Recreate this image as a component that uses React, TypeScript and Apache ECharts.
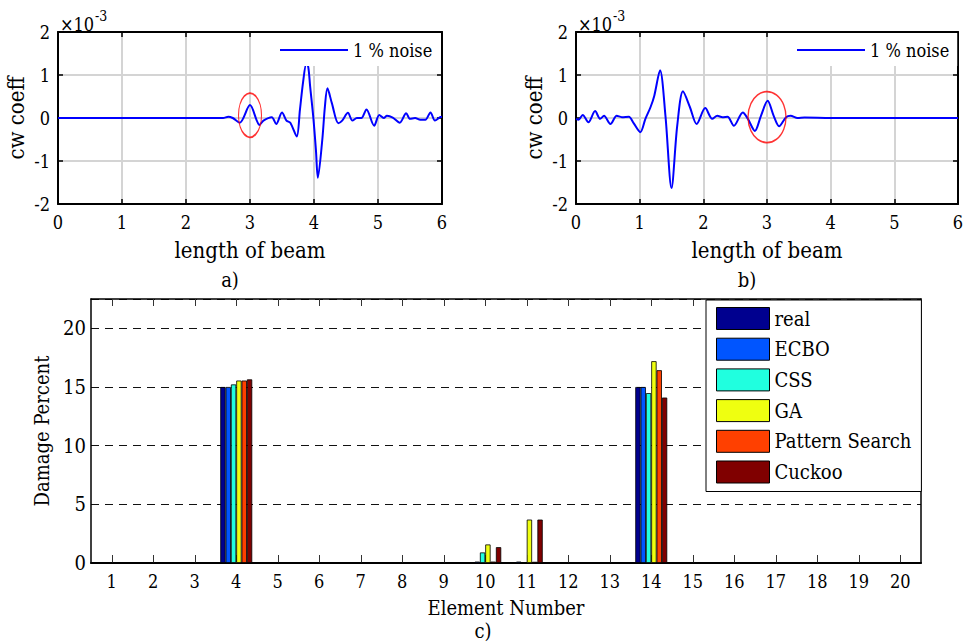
import React, { useEffect, useRef } from "react";
import * as echarts from "echarts";

const SERIF = "DejaVu Serif Condensed";

// ---- data: panels a) and b) (cw coefficient, x 1e-3) ----
const noiseName = "1 % noise";
const curveA: [number, number][] = [
  [0, 0], [0.5, 0], [1, 0], [1.5, 0], [2, 0], [2.5, 0], [2.58, 0.0], [2.66, 0.03], [2.73, 0.0],
  [2.84, -0.11], [3.0, 0.3], [3.15, -0.16], [3.21, -0.06], [3.34, 0.02], [3.41, -0.14], [3.5, 0.13],
  [3.57, -0.06], [3.63, -0.11], [3.73, -0.43], [3.78, 0.19], [3.83, 0.84], [3.88, 1.26], [3.91, 1.19],
  [3.94, 0.73], [3.99, 0.0], [4.03, -0.74], [4.06, -1.39], [4.13, -0.5], [4.17, 0.26], [4.21, 0.69],
  [4.28, 0.34], [4.38, -0.12], [4.44, -0.06], [4.53, 0.12], [4.6, -0.06], [4.67, 0], [4.74, 0],
  [4.82, 0.2], [4.94, -0.18], [5.02, 0.07], [5.09, 0], [5.14, 0.05], [5.23, 0.01], [5.34, -0.11],
  [5.44, 0.11], [5.5, -0.02], [5.58, 0], [5.66, -0.04], [5.74, -0.04], [5.82, 0.13], [5.89, -0.06],
  [5.97, 0.02], [6.0, 0.03],
];
const curveB: [number, number][] = [
  [0, -0.02], [0.04, -0.04], [0.105, 0.07], [0.195, -0.1], [0.3, 0.16], [0.38, -0.02], [0.44, 0.05],
  [0.54, -0.14], [0.64, 0.05], [0.72, 0.02], [0.83, 0.03], [0.905, -0.12], [1.01, -0.33], [1.09, -0.02],
  [1.17, 0.25], [1.23, 0.52], [1.32, 1.11], [1.405, 0.05], [1.5, -1.63], [1.59, -0.18], [1.68, 0.62],
  [1.79, 0.25], [1.895, -0.14], [2.03, 0.23], [2.14, -0.02], [2.22, 0.05], [2.3, 0.02], [2.38, 0.03],
  [2.48, -0.18], [2.62, 0.13], [2.7, -0.02], [2.81, -0.3], [2.905, 0.05], [3.01, 0.4], [3.105, 0.05],
  [3.19, -0.19], [3.3, 0.02], [3.37, 0.05], [3.48, 0], [3.59, 0.01], [4, 0], [5, 0], [6, 0],
];
const markA: [number, number][] = [[3.0, 0.065]];
const markB: [number, number][] = [[3.0, 0.02]];

// ---- data: panel c) damage percent ----
const elements = ["1", "2", "3", "4", "5", "6", "7", "8", "9", "10", "11", "12", "13", "14", "15", "16", "17", "18", "19", "20"];
const methods = ["real", "ECBO", "CSS", "GA", "Pattern Search", "Cuckoo"];
const real = [0, 0, 0, 15, 0, 0, 0, 0, 0, 0, 0, 0, 0, 15, 0, 0, 0, 0, 0, 0];
const ecbo = [0, 0, 0, 15, 0, 0, 0, 0, 0, 0.12, 0.12, 0, 0, 15, 0, 0, 0, 0, 0, 0];
const css = [0, 0, 0, 15.22, 0, 0, 0, 0, 0, 0.9, 0, 0, 0, 14.48, 0, 0, 0, 0, 0, 0];
const ga = [0, 0, 0, 15.55, 0, 0, 0, 0, 0, 1.58, 3.7, 0, 0, 17.2, 0, 0, 0, 0, 0, 0];
const patternSearch = [0, 0, 0, 15.55, 0, 0, 0, 0, 0, 0.12, 0.1, 0, 0, 16.43, 0, 0, 0, 0, 0, 0];
const cuckoo = [0, 0, 0, 15.65, 0, 0, 0, 0, 0, 1.35, 3.7, 0, 0, 14.1, 0, 0, 0, 0, 0, 0];
const methodValues = [real, ecbo, css, ga, patternSearch, cuckoo];
const methodColors = ["#00008F", "#0055FF", "#20FFDF", "#EFFF10", "#FF4000", "#800000"];

export default function App() {
  const ref = useRef<HTMLDivElement>(null);
  useEffect(() => {
    if (!ref.current) return;
    const chart = echarts.init(ref.current, undefined, { renderer: "svg" });
    const black = "#000";
    const txt = (size: number) => ({ fontFamily: SERIF, fontSize: size, color: black });

    const beamX = (grid: number, top: boolean) => ({
      gridIndex: grid,
      type: "value",
      min: 0,
      max: 6,
      interval: 1,
      position: top ? "top" : "bottom",
      axisLine: { show: true, onZero: false, lineStyle: { color: black, width: 2 } },
      axisTick: { show: true, inside: true, length: 5, lineStyle: { color: black, width: 1.5 } },
      axisLabel: top ? { show: false } : { ...txt(18), margin: 9 },
      splitLine: top ? { show: false } : { show: true, lineStyle: { color: "#d4d4d4", width: 2 } },
      name: top ? "" : "length of beam",
      nameLocation: "middle",
      nameGap: 35,
      nameTextStyle: txt(22),
    });
    const beamY = (grid: number, right: boolean) => ({
      gridIndex: grid,
      type: "value",
      min: -2,
      max: 2,
      interval: 1,
      position: right ? "right" : "left",
      axisLine: { show: true, onZero: false, lineStyle: { color: black, width: 2 } },
      axisTick: { show: true, inside: true, length: 5, lineStyle: { color: black, width: 1.5 } },
      axisLabel: right ? { show: false } : { ...txt(18), margin: 8 },
      splitLine: right ? { show: false } : { show: true, lineStyle: { color: "#d4d4d4", width: 2 } },
      name: right ? "" : "cw coeff",
      nameLocation: "middle",
      nameGap: 31,
      nameTextStyle: txt(22),
    });

    const lineSeries = (data: [number, number][], idx: number) => ({
      name: noiseName,
      type: "line",
      xAxisIndex: idx,
      yAxisIndex: idx,
      data,
      symbol: "none",
      smooth: 0.3,
      lineStyle: { color: "#0000FF", width: 2 },
      itemStyle: { color: "#0000FF" },
      z: 3,
    });
    const markSeries = (data: [number, number][], idx: number, size: number[]) => ({
      name: "mark" + idx,
      type: "scatter",
      xAxisIndex: idx,
      yAxisIndex: idx,
      data,
      symbol: "circle",
      symbolSize: size,
      itemStyle: { color: "rgba(0,0,0,0)", borderColor: "#FF0000", borderWidth: 1.5 },
      z: 4,
    });

    const barSeries = methods.map((m, i) => ({
      name: m,
      type: "bar",
      xAxisIndex: 4,
      yAxisIndex: 4,
      data: methodValues[i],
      barGap: "0%",
      barCategoryGap: "23%",
      itemStyle: { color: methodColors[i], borderColor: "#000", borderWidth: 0.8 },
    }));

    const lineLegend = (left: number) => ({
      data: [noiseName],
      left,
      top: 33,
      itemWidth: 68,
      itemHeight: 14,
      padding: [7, 8, 6, 11],
      backgroundColor: "#fff",
      itemStyle: { opacity: 0 },
      lineStyle: { color: "#0000FF", width: 2 },
      textStyle: { ...txt(18), lineHeight: 20 },
      selectedMode: false,
    });

    const option: any = {
      animation: false,
      backgroundColor: "#fff",
      grid: [
        { left: 58, right: 525, top: 32, bottom: 438 },
        { left: 576, right: 9, top: 32, bottom: 438 },
        { left: 91, right: 46, top: 299, bottom: 79 },
      ],
      xAxis: [
        beamX(0, false),
        beamX(0, true),
        beamX(1, false),
        beamX(1, true),
        {
          gridIndex: 2,
          type: "category",
          data: elements,
          boundaryGap: true,
          position: "bottom",
          axisLine: { show: true, onZero: false, lineStyle: { color: black, width: 2 } },
          axisTick: { show: true, alignWithLabel: true, inside: true, length: 8, lineStyle: { color: "#333" } },
          axisLabel: { ...txt(18), margin: 9 },
          splitLine: { show: false },
          name: "Element Number",
          nameLocation: "middle",
          nameGap: 35,
          nameTextStyle: { ...txt(20), lineHeight: 20 },
        },
        {
          gridIndex: 2,
          type: "category",
          data: elements,
          boundaryGap: true,
          position: "top",
          axisLine: { show: true, onZero: false, lineStyle: { color: black, width: 1.5 } },
          axisTick: { show: true, alignWithLabel: true, inside: true, length: 7, lineStyle: { color: "#333" } },
          axisLabel: { show: false },
          splitLine: { show: false },
        },
      ],
      yAxis: [
        beamY(0, false),
        beamY(0, true),
        beamY(1, false),
        beamY(1, true),
        {
          gridIndex: 2,
          type: "value",
          min: 0,
          max: 22.5,
          interval: 5,
          position: "left",
          axisLine: { show: true, onZero: false, lineStyle: { color: black, width: 1.5 } },
          axisTick: { show: false },
          axisLabel: {
            ...txt(20),
            margin: 5,
            showMaxLabel: false,
            formatter: (v: number) => (v % 5 === 0 ? String(v) : ""),
          },
          splitLine: { show: true, lineStyle: { color: "#111", width: 1, type: [8, 6] } },
          name: "Damage Percent",
          nameLocation: "middle",
          nameGap: 39,
          nameTextStyle: txt(20),
        },
        {
          gridIndex: 2,
          type: "value",
          min: 0,
          max: 22.5,
          position: "right",
          axisLine: { show: true, onZero: false, lineStyle: { color: black, width: 1.5 } },
          axisTick: { show: false },
          axisLabel: { show: false },
          splitLine: { show: false },
        },
      ],
      legend: [
        lineLegend(268),
        lineLegend(785),
        {
          data: methods,
          orient: "vertical",
          left: 706,
          top: 300,
          itemWidth: 53,
          itemHeight: 22,
          itemGap: 7.7,
          padding: [7, 10, 8, 10],
          backgroundColor: "#fff",
          borderColor: "#000",
          borderWidth: 1,
          icon: "rect",
          selectedMode: false,
          textStyle: { ...txt(20), lineHeight: 22 },
          itemStyle: { borderColor: "#000", borderWidth: 1 },
        },
      ],
      series: [
        lineSeries(curveA, 0),
        markSeries(markA, 0, [23, 44]),
        lineSeries(curveB, 2),
        markSeries(markB, 2, [38, 51]),
        ...barSeries,
      ],
      graphic: [
        { type: "text", x: 60, y: 24, style: { text: "×10", font: `18px "${SERIF}"`, fill: black, verticalAlign: "middle" } },
        { type: "text", x: 95, y: 16, style: { text: "-3", font: `14px "${SERIF}"`, fill: black, verticalAlign: "middle" } },
        { type: "text", x: 578, y: 24, style: { text: "×10", font: `18px "${SERIF}"`, fill: black, verticalAlign: "middle" } },
        { type: "text", x: 613, y: 16, style: { text: "-3", font: `14px "${SERIF}"`, fill: black, verticalAlign: "middle" } },
        { type: "text", x: 230, y: 280, style: { text: "a)", font: `20px "${SERIF}"`, fill: black, align: "center", verticalAlign: "middle" } },
        { type: "text", x: 747, y: 280, style: { text: "b)", font: `20px "${SERIF}"`, fill: black, align: "center", verticalAlign: "middle" } },
        { type: "text", x: 483, y: 631, style: { text: "c)", font: `20px "${SERIF}"`, fill: black, align: "center", verticalAlign: "middle" } },
      ],
    };
    chart.setOption(option);
    return () => chart.dispose();
  }, []);
  return (
    <div
      ref={ref}
      style={{ position: "absolute", left: 0, top: 0, width: 967, height: 642, background: "#fff" }}
    />
  );
}
